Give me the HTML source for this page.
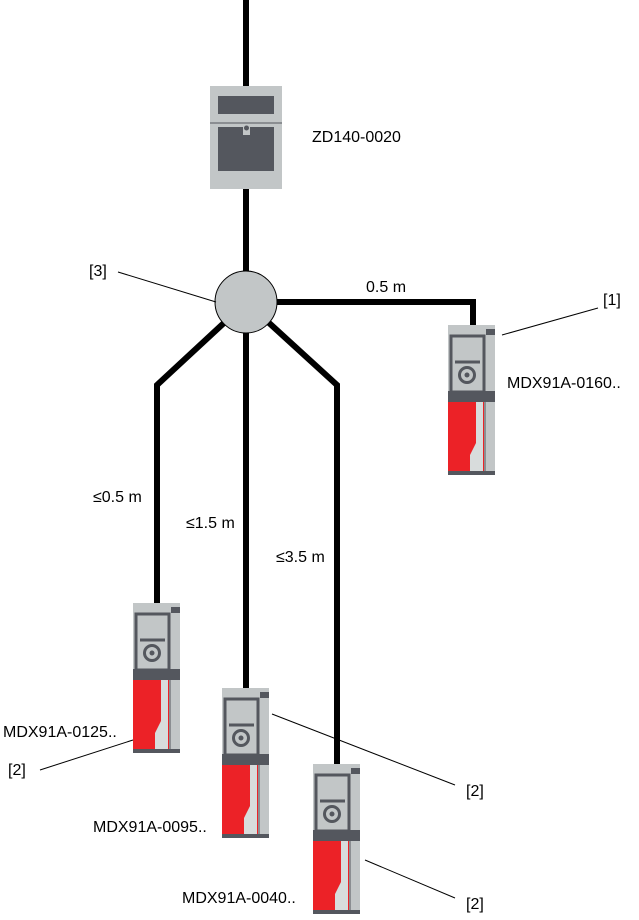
<!DOCTYPE html>
<html><head><meta charset="utf-8"><style>
html,body{margin:0;padding:0;background:#fff}
text{font-family:"Liberation Sans",sans-serif;font-size:16px;fill:#000}
</style></head><body>
<svg width="639" height="915" viewBox="0 0 639 915" xmlns="http://www.w3.org/2000/svg">
<defs>
<g id="dev">
<rect x="0" y="0" width="47" height="150" fill="#c2c6c7"/>
<rect x="38" y="4" width="9" height="6" fill="#54575e"/>
<rect x="3" y="11" width="33" height="56" fill="none" stroke="#54575e" stroke-width="3"/>
<rect x="0" y="66" width="47" height="11" fill="#54575e"/>
<line x1="7" y1="37" x2="32" y2="37" stroke="#54575e" stroke-width="3"/>
<circle cx="19" cy="50" r="7.5" fill="none" stroke="#54575e" stroke-width="3"/>
<circle cx="19" cy="50" r="2.5" fill="#54575e"/>
<rect x="0" y="77" width="36" height="70" fill="#ec2227"/>
<polygon points="28,77 35,77 35,147 22,147 22,130 28,118" fill="#d8dcdc"/>
<line x1="37" y1="77" x2="37" y2="147" stroke="#54575e" stroke-width="1"/>
<rect x="0" y="146" width="47" height="4" fill="#54575e"/>
</g>
</defs>
<g stroke="#000" stroke-width="6" fill="none" stroke-linejoin="miter">
<line x1="246" y1="0" x2="246" y2="90"/>
<line x1="246" y1="188" x2="246" y2="280"/>
<polyline points="270,302 473,302 473,326"/>
<polyline points="225,322 157,385 157,604"/>
<line x1="246" y1="320" x2="246" y2="690"/>
<polyline points="268,322 337,385 337,766"/>
</g>
<rect x="210" y="86" width="72" height="103" fill="#c2c6c7"/>
<rect x="218" y="96" width="56" height="18" fill="#54575e"/>
<line x1="210" y1="123" x2="282" y2="123" stroke="#54575e" stroke-width="1"/>
<rect x="218" y="127" width="56" height="44" fill="#54575e"/>
<rect x="243" y="125" width="7" height="10" fill="#c2c6c7"/>
<circle cx="246.5" cy="128" r="2.5" fill="#54575e"/>
<circle cx="246" cy="302" r="31" fill="#c2c6c7" stroke="#000" stroke-width="1"/>
<use href="#dev" x="448" y="325"/>
<use href="#dev" x="133" y="603"/>
<use href="#dev" x="222" y="688"/>
<use href="#dev" x="313" y="764"/>
<g stroke="#000" stroke-width="1">
<line x1="118" y1="272" x2="216" y2="302"/>
<line x1="598" y1="308" x2="502" y2="335"/>
<line x1="40" y1="770" x2="133" y2="740"/>
<line x1="272" y1="714" x2="455" y2="785"/>
<line x1="365" y1="860" x2="455" y2="898"/>
</g>
<text x="312" y="142">ZD140-0020</text>
<text x="89" y="276">[3]</text>
<text x="366" y="292">0.5 m</text>
<text x="603" y="305">[1]</text>
<text x="507" y="388">MDX91A-0160..</text>
<text x="93" y="502">≤0.5 m</text>
<text x="186" y="528">≤1.5 m</text>
<text x="276" y="562">≤3.5 m</text>
<text x="3" y="737">MDX91A-0125..</text>
<text x="8" y="775">[2]</text>
<text x="93" y="832">MDX91A-0095..</text>
<text x="466" y="796">[2]</text>
<text x="182" y="903">MDX91A-0040..</text>
<text x="466" y="909">[2]</text>
</svg>
</body></html>
